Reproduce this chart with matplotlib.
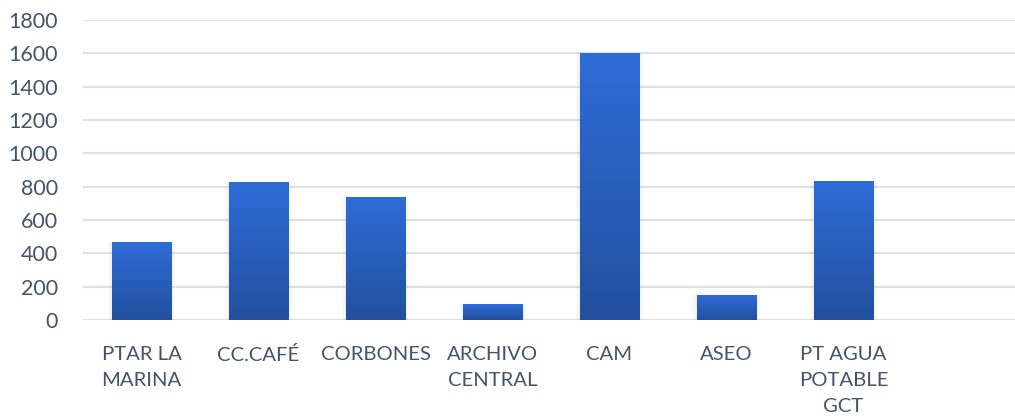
import numpy as np
import matplotlib
matplotlib.use("Agg")
import matplotlib.pyplot as plt
from matplotlib.colors import LinearSegmentedColormap
from matplotlib.patches import Rectangle

categories = ["PTAR LA\nMARINA", "CC.CAFÉ", "CORBONES", "ARCHIVO\nCENTRAL",
              "CAM", "ASEO", "PT AGUA\nPOTABLE\nGCT", ""]
values = [466, 828, 738, 96, 1600, 150, 834, 0]
yticks = [0, 200, 400, 600, 800, 1000, 1200, 1400, 1600, 1800]

plt.rcParams['font.family'] = ['Lato', 'DejaVu Sans']

fig = plt.figure(figsize=(10.15, 4.17), dpi=100)
W, H = 1015, 417
ax = fig.add_axes([83 / W, (H - 320) / H, 936 / W, 300 / H])

x = np.arange(len(categories))
bw = 0.505
cmap = LinearSegmentedColormap.from_list("g", ["#22509e", "#2e6cd8"])
grad = np.linspace(0, 1, 256).reshape(-1, 1)

bars = ax.bar(x, values, width=bw, color="none", edgecolor="none", zorder=3)
for b, v in zip(bars, values):
    if v <= 0:
        continue
    x0, w = b.get_x(), b.get_width()
    # soft shadow
    for i, a in enumerate([0.05, 0.04, 0.03]):
        d = (i + 1) * 0.012
        ax.add_patch(Rectangle((x0 - d, -d * 300), w + 2 * d, v + d * 300,
                               facecolor="#808080", alpha=a, edgecolor="none", zorder=2))
    im = ax.imshow(grad, cmap=cmap, origin="lower", aspect="auto",
                   extent=(x0, x0 + w, 0, v), zorder=3)
    im.set_clip_path(b)

ax.set_xlim(-0.5, len(categories) - 0.5)
ax.set_ylim(0, 1800)
ax.set_yticks(yticks)
ax.set_xticks(x)
ax.set_xticklabels(categories, linespacing=1.62)
ax.tick_params(axis="both", length=0, colors="#44546a")
ax.tick_params(axis="x", pad=19, labelsize=14.6)
ax.tick_params(axis="y", pad=18, labelsize=15.5)
for s in ax.spines.values():
    s.set_visible(False)
ax.yaxis.grid(True, color="#dde1e6", linewidth=1.6, zorder=0)
ax.set_axisbelow(True)

fig.savefig("out.png", dpi=100)
